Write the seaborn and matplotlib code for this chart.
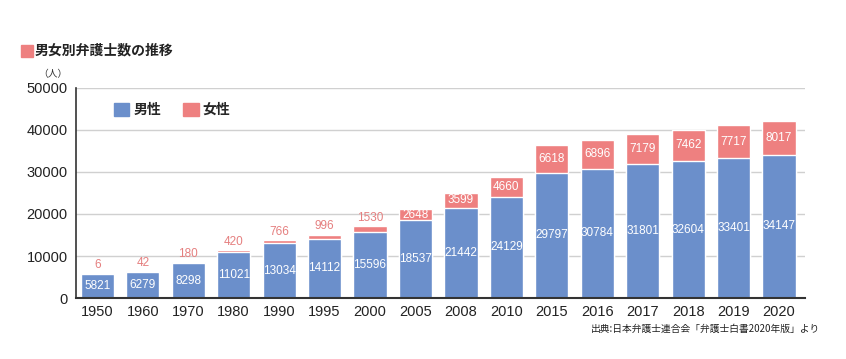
import matplotlib
matplotlib.use("Agg")
import matplotlib.pyplot as plt
import seaborn as sns
import pandas as pd
from matplotlib.patches import Rectangle
from matplotlib import font_manager

years = ["1950", "1960", "1970", "1980", "1990", "1995", "2000", "2005",
         "2008", "2010", "2015", "2016", "2017", "2018", "2019", "2020"]
male = [5821, 6279, 8298, 11021, 13034, 14112, 15596, 18537,
        21442, 24129, 29797, 30784, 31801, 32604, 33401, 34147]
female = [6, 42, 180, 420, 766, 996, 1530, 2648,
          3599, 4660, 6618, 6896, 7179, 7462, 7717, 8017]
yticks = [0, 10000, 20000, 30000, 40000, 50000]

BLUE = "#6b8fcb"
RED = "#ee8080"
LABEL_RED = "#e57f7f"

sns.set_theme(style="white")
plt.rcParams["font.family"] = ["Liberation Sans", "Noto Sans CJK JP", "DejaVu Sans"]

names = {f.name for f in font_manager.fontManager.ttflist}
LBL_FAMILY = ["Liberation Sans Narrow"] if "Liberation Sans Narrow" in names else ["Liberation Sans"]
LBL_SIZE = 10 if "Liberation Sans Narrow" in names else 8.5

df = pd.DataFrame({"year": years, "male": male, "female": female})
df["total"] = df["male"] + df["female"]

fig = plt.figure(figsize=(8.46, 3.59), dpi=100)
ax = fig.add_axes([0.0898, 0.1699, 0.8617, 0.585])

sns.barplot(data=df, x="year", y="total", color=RED, saturation=1,
            width=0.73, ax=ax, order=years)
sns.barplot(data=df, x="year", y="male", color=BLUE, saturation=1,
            width=0.73, ax=ax, order=years)

for i, (m, f) in enumerate(zip(male, female)):
    ax.text(i, m / 2, str(m), ha="center", va="center", color="white",
            fontsize=LBL_SIZE, family=LBL_FAMILY)
    if f < 2000:
        ax.text(i, m + f + 500, str(f), ha="center", va="bottom",
                color=LABEL_RED, fontsize=LBL_SIZE, family=LBL_FAMILY)
    else:
        ax.text(i, m + f / 2, str(f), ha="center", va="center",
                color="white", fontsize=LBL_SIZE, family=LBL_FAMILY)

ax.set_ylim(0, 50000)
ax.set_xlim(-0.47, 15.57)
ax.set_yticks(yticks)
ax.set_yticklabels([str(v) for v in yticks], fontsize=10.5, color="#222222")
ax.tick_params(axis="x", labelsize=10.5, colors="#222222", length=0, pad=5)
ax.tick_params(axis="y", length=0, pad=6)
ax.set_xlabel("")
ax.set_ylabel("")
for v in yticks[1:]:
    ax.axhline(v, color="#d0d0d0", lw=1, zorder=0)
ax.set_axisbelow(True)
for s in ["top", "right"]:
    ax.spines[s].set_visible(False)
ax.spines["left"].set_color("#333333")
ax.spines["bottom"].set_color("#333333")
ax.spines["left"].set_linewidth(1.2)
ax.spines["bottom"].set_linewidth(1.5)

# legend
handles = [Rectangle((0, 0), 1, 1, color=BLUE), Rectangle((0, 0), 1, 1, color=RED)]
leg = ax.legend(handles, ["男性", "女性"], loc="upper left", ncol=2,
                frameon=False, bbox_to_anchor=(0.035, 0.99),
                prop={"family": ["Noto Sans CJK JP"], "weight": "bold", "size": 10},
                handlelength=1.1, handleheight=1.1, columnspacing=1.6,
                handletextpad=0.3)

# title
fig.add_artist(Rectangle((21 / 846, 1 - 57 / 359), 12 / 846, 12 / 359,
                         transform=fig.transFigure, color=RED))
fig.text(35 / 846, 1 - 51 / 359, "男女別弁護士数の推移", fontsize=10,
         fontweight="bold", va="center", ha="left",
         family=["Noto Sans CJK JP"], color="#222222")
fig.text(53 / 846, 1 - 74 / 359, "（人）", fontsize=7, va="center",
         ha="center", family=["Noto Sans CJK JP"], color="#333333")
fig.text(820 / 846, 1 - 329 / 359, "出典:日本弁護士連合会「弁護士白書2020年版」より",
         fontsize=7, va="center", ha="right", family=["Noto Sans CJK JP"],
         color="#222222")

fig.savefig("out.png", dpi=100)
